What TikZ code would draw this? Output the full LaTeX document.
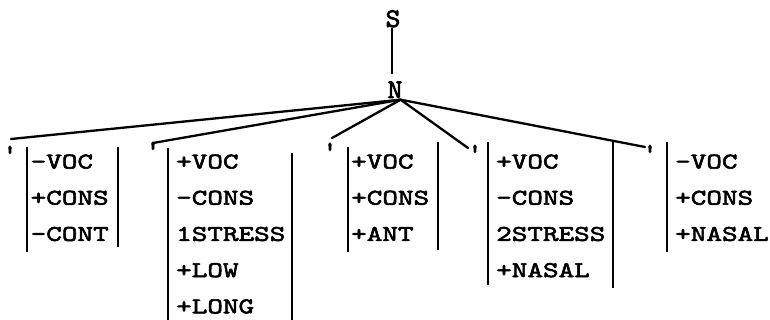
\documentclass[tikz,border=0pt]{standalone}
\usepackage{fontspec}
\newfontfamily\tw[Extension=.otf,FakeStretch=1.32,FakeBold=2.6]{lmmono10-regular}
\newfontfamily\twcat[Extension=.otf,FakeStretch=1.05,FakeBold=2.6]{lmmono10-regular}
\newfontfamily\twtick[Extension=.otf,FakeBold=4]{lmmono10-regular}
\tikzset{
  feat/.style={font=\tw\fontsize{22.5}{22.5}\selectfont, inner sep=0pt, anchor=base west},
  cat/.style={font=\twcat\fontsize{27}{27}\selectfont, inner sep=0pt, anchor=base},
  tick/.style={font=\twtick\fontsize{25}{25}\selectfont, inner sep=0pt, anchor=north},
  edge/.style={line width=2.3pt, line cap=round},
  bar/.style={line width=2.5pt}
}
\begin{document}
\begin{tikzpicture}[x=1pt,y=-1pt]
\useasboundingbox (0,0) rectangle (770,320);

% root and its single daughter
\node[cat] (S) at (393,27) {S};
\node[cat] (N) at (395,98) {N};
\draw[edge, shorten <=1pt, shorten >=8pt] ([xshift=-1pt]S.south) -- ([xshift=-1pt]S.south |- N.north);

% branch ends
\coordinate (hub) at ([xshift=-2pt,yshift=-1.5pt]N.south east);
\coordinate (a1) at (11,139);
\coordinate (a2) at (153,143);
\coordinate (a3) at (332,138);
\coordinate (a4) at (468,148);
\coordinate (a5) at (645,147);
\foreach \a in {a1,a2,a3,a4,a5}
  \draw[edge] (hub) -- (\a);

% stress ticks before each segment
\node[tick] (q1) at (10,146) {\textquotesingle};
\node[tick] (q2) at (153,142) {\textquotesingle};
\node[tick] (q3) at (330,143) {\textquotesingle};
\node[tick] (q4) at (475,145) {\textquotesingle};
\node[tick] (q5) at (650,145) {\textquotesingle};

% feature bundles
\foreach \t [count=\k] in {-VOC,+CONS,-CONT}
  \node[feat] (b1r\k) at (30.5,{168.5+36.2*(\k-1)}) {\t};
\foreach \t [count=\k] in {+VOC,-CONS,1STRESS,+LOW,+LONG}
  \node[feat] (b2r\k) at (176,{168.5+36.2*(\k-1)}) {\t};
\foreach \t [count=\k] in {+VOC,+CONS,+ANT}
  \node[feat] (b3r\k) at (351,{168.5+36.2*(\k-1)}) {\t};
\foreach \t [count=\k] in {+VOC,-CONS,2STRESS,+NASAL}
  \node[feat] (b4r\k) at (496,{168.5+36.2*(\k-1)}) {\t};
\foreach \t [count=\k] in {-VOC,+CONS,+NASAL}
  \node[feat] (b5r\k) at (675,{168.5+36.2*(\k-1)}) {\t};

% matrix brackets
\draw[bar] (27,147) -- (27,252);
\draw[bar] (118,147) -- (118,247);
\draw[bar] (168,148) -- (168,320);
\draw[bar] (292,153) -- (292,320);
\draw[bar] (348,147) -- (348,252);
\draw[bar] (438,142) -- (438,250);
\draw[bar] (488,142) -- (488,285);
\draw[bar] (613,141) -- (613,288);
\draw[bar] (667,142) -- (667,252);
\end{tikzpicture}
\end{document}
